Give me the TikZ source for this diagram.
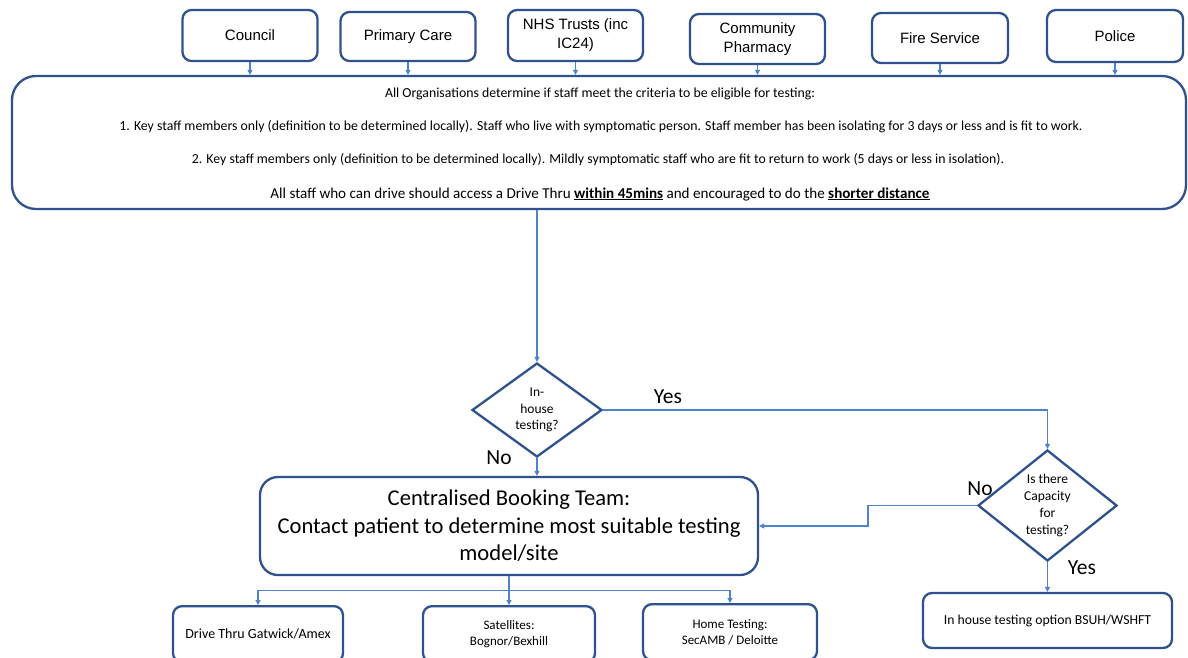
\documentclass[tikz,border=0pt]{standalone}
\usepackage{fontspec}
\setmainfont{Carlito}
\newfontfamily\arialf{Liberation Sans}
\usetikzlibrary{arrows.meta,shapes.geometric,calc}
\definecolor{bord}{HTML}{2F528F}
\definecolor{lnk}{HTML}{5082C8}
\tikzset{
  org/.style={draw=bord, line width=2.3pt, rounded corners=9pt, fill=white,
    minimum width=135pt, minimum height=51pt, inner sep=0pt, align=center,
    font=\arialf\fontsize{15}{19}\selectfont},
  bigbox/.style={draw=bord, line width=2.3pt, rounded corners=24pt,
    minimum width=1174pt, minimum height=133pt, inner sep=0pt},
  crit/.style={inner sep=0pt, font=\fontsize{13.8}{15}\selectfont},
  booking/.style={draw=bord, line width=2.3pt, rounded corners=18pt,
    minimum width=498pt, minimum height=98pt, inner sep=0pt, align=center,
    font=\fontsize{22.6}{27.5}\selectfont},
  decide/.style={diamond, draw=bord, line width=2.3pt, inner sep=0pt,
    align=center, font=\fontsize{13.5}{16.7}\selectfont},
  site/.style={draw=bord, line width=2.3pt, rounded corners=9pt,
    minimum height=56pt, inner sep=0pt, align=center,
    font=\fontsize{13}{16.5}\selectfont},
  lab/.style={inner sep=0pt, font=\fontsize{21.5}{23}\selectfont},
  conn/.style={draw=lnk, line width=1.1pt, -{Triangle[length=5pt,width=5pt]}},
  plain/.style={draw=lnk, line width=1.1pt},
}
\begin{document}
\begin{tikzpicture}[x=1pt,y=-1pt]
\clip (0,0) rectangle (1188,657);
\fill[white] (0,0) rectangle (1188,657);

% organisations
\node[org] (council) at (250,35.5) {Council};
\node[org, minimum height=49pt] (primary) at (408,36.5) {Primary Care};
\node[org] (nhs) at (575.5,35.5) {NHS Trusts (inc\\IC24)};
\node[org, minimum height=50pt] (pharm) at (757.5,39) {Community\\Pharmacy};
\node[org, minimum height=50pt, minimum width=136pt] (fire) at (940,38) {Fire Service};
\node[org, minimum height=52pt, minimum width=136pt] (police) at (1115,36) {Police};

% criteria box
\node[bigbox] (big) at (599,142.5) {};
\node[crit] (l1) at (600,94) {All Organisations determine if staff meet the criteria to be eligible for testing:};
\node[crit] (l2) at (601,127) {1. Key staff members only (definition to be determined locally). Staff who live with symptomatic person. Staff member has been isolating for 3 days or less and is fit to work.};
\node[crit] (l3) at (598,160) {2. Key staff members only (definition to be determined locally). Mildly symptomatic staff who are fit to return to work (5 days or less in isolation).};
\node[crit, font=\fontsize{15.1}{16}\selectfont] (l4) at (600,194) {All staff who can drive should access a Drive Thru \underline{\textbf{within 45mins}} and encouraged to do the \underline{\textbf{shorter distance}}};

\foreach \o in {council,primary,nhs,pharm,fire,police}
  \draw[conn] (\o.south) -- (\o.south |- big.north);

% decisions
\node[decide, minimum width=130pt, minimum height=94pt] (d1) at (537,410) {In-\\house\\testing?};
\node[decide, minimum width=139pt, minimum height=111pt] (d2) at (1047.5,505.5) {Is there\\Capacity\\for\\testing?};

\draw[conn] (d1.north |- big.south) -- (d1.north);

% booking team
\node[booking] (book) at (509,526) {Centralised Booking Team:\\Contact patient to determine most suitable testing\\model/site};

\draw[conn] (d1.south) -- (d1.south |- book.north);
\draw[conn] (d1.east) -| (d2.north);
\draw[conn] (d2.west) -| ($(d2.west)!.5!(book.east)$) |- (book.east);

% in-house option
\node[site, minimum width=249pt, minimum height=55pt, font=\fontsize{13.7}{15}\selectfont] (inh) at (1047.5,620.5) {In house testing option BSUH/WSHFT};
\draw[conn] (d2.south) -- (inh.north);

% sites
\node[site, minimum width=170pt, anchor=north, font=\fontsize{14}{16}\selectfont] (drive) at (258,605) {Drive Thru Gatwick/Amex};
\node[site, minimum width=172pt, anchor=north] (sat) at (509,605) {Satellites:\\Bognor/Bexhill};
\node[site, minimum width=174pt, anchor=north] (home) at (730,603) {Home Testing:\\SecAMB / Deloitte};

\coordinate (split) at ($(book.south)+(0,14)$);
\draw[plain] (book.south) -- (split);
\draw[conn] (split) -| (drive.north);
\draw[conn] (split) -- (sat.north);
\draw[conn] (split) -| (home.north);

% labels
\node[lab] (yes1) at (668,397) {Yes};
\node[lab] (no1) at (499,458) {No};
\node[lab] (no2) at (980,489) {No};
\node[lab] (yes2) at (1082,568) {Yes};
\end{tikzpicture}
\end{document}
